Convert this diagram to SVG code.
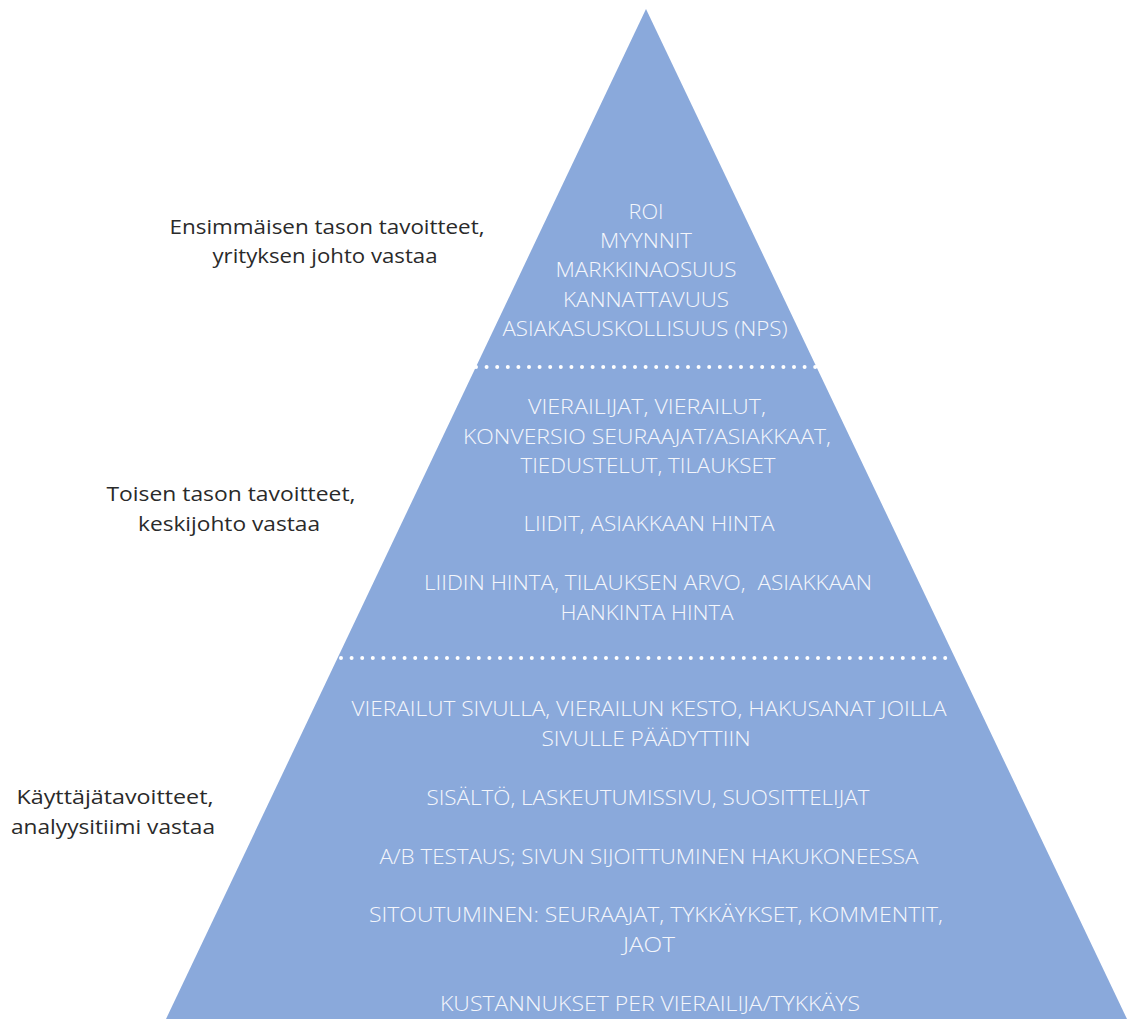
<svg xmlns="http://www.w3.org/2000/svg" width="1127" height="1019" viewBox="0 0 1127 1019">
<style>
.w{font-family:"Open Sans","Liberation Sans",sans-serif;font-weight:300;font-size:20.5px;fill:#F4F6FB;text-anchor:middle}
.b{font-family:"Open Sans","Liberation Sans",sans-serif;font-weight:400;font-size:20.5px;fill:#2a2a2a;text-anchor:middle}
.dot{stroke:#FFFFFF;stroke-width:4;stroke-linecap:round;stroke-dasharray:0 10.6;fill:none}
</style>
<rect width="1127" height="1019" fill="#FFFFFF"/>
<g id="pyramid">
<polygon points="646,9 1127,1019 166,1019" fill="#8AA9DB"/>
</g>
<g id="connectors">
<line class="dot" x1="476" y1="367" x2="817" y2="367"/>
<line class="dot" x1="341" y1="658" x2="955" y2="658"/>
</g>
<g id="level1">
<text class="w" x="646" y="219" textLength="35" lengthAdjust="spacingAndGlyphs">ROI</text>
<text class="w" x="646" y="248" textLength="92" lengthAdjust="spacingAndGlyphs">MYYNNIT</text>
<text class="w" x="646" y="277" textLength="181" lengthAdjust="spacingAndGlyphs">MARKKINAOSUUS</text>
<text class="w" x="646" y="307" textLength="166" lengthAdjust="spacingAndGlyphs">KANNATTAVUUS</text>
<text class="w" x="645" y="336" textLength="285" lengthAdjust="spacingAndGlyphs">ASIAKASUSKOLLISUUS (NPS)</text>
</g>
<g id="level2">
<text class="w" x="647" y="414" textLength="238" lengthAdjust="spacingAndGlyphs">VIERAILIJAT, VIERAILUT,</text>
<text class="w" x="647" y="444" textLength="368" lengthAdjust="spacingAndGlyphs">KONVERSIO SEURAAJAT/ASIAKKAAT,</text>
<text class="w" x="648" y="473" textLength="255" lengthAdjust="spacingAndGlyphs">TIEDUSTELUT, TILAUKSET</text>
<text class="w" x="649" y="531" textLength="251" lengthAdjust="spacingAndGlyphs">LIIDIT, ASIAKKAAN HINTA</text>
<text class="w" x="648" y="590" textLength="448" lengthAdjust="spacingAndGlyphs">LIIDIN HINTA, TILAUKSEN ARVO,&#160; ASIAKKAAN</text>
<text class="w" x="647" y="620" textLength="173" lengthAdjust="spacingAndGlyphs">HANKINTA HINTA</text>
</g>
<g id="level3">
<text class="w" x="649" y="716" textLength="595" lengthAdjust="spacingAndGlyphs">VIERAILUT SIVULLA, VIERAILUN KESTO, HAKUSANAT JOILLA</text>
<text class="w" x="646" y="746" textLength="209" lengthAdjust="spacingAndGlyphs">SIVULLE PÄÄDYTTIIN</text>
<text class="w" x="648" y="805" textLength="443" lengthAdjust="spacingAndGlyphs">SISÄLTÖ, LASKEUTUMISSIVU, SUOSITTELIJAT</text>
<text class="w" x="649" y="864" textLength="539" lengthAdjust="spacingAndGlyphs">A/B TESTAUS; SIVUN SIJOITTUMINEN HAKUKONEESSA</text>
<text class="w" x="656" y="922" textLength="574" lengthAdjust="spacingAndGlyphs">SITOUTUMINEN: SEURAAJAT, TYKKÄYKSET, KOMMENTIT,</text>
<text class="w" x="649" y="952" textLength="52" lengthAdjust="spacingAndGlyphs">JAOT</text>
<text class="w" x="650" y="1011" textLength="420" lengthAdjust="spacingAndGlyphs">KUSTANNUKSET PER VIERAILIJA/TYKKÄYS</text>
</g>
<g id="label1">
<text class="b" x="327" y="234" textLength="315" lengthAdjust="spacingAndGlyphs">Ensimmäisen tason tavoitteet,</text>
<text class="b" x="325" y="263" textLength="225" lengthAdjust="spacingAndGlyphs">yrityksen johto vastaa</text>
</g>
<g id="label2">
<text class="b" x="231" y="501" textLength="249" lengthAdjust="spacingAndGlyphs">Toisen tason tavoitteet,</text>
<text class="b" x="229" y="531" textLength="182" lengthAdjust="spacingAndGlyphs">keskijohto vastaa</text>
</g>
<g id="label3">
<text class="b" x="115" y="804" textLength="197" lengthAdjust="spacingAndGlyphs">Käyttäjätavoitteet,</text>
<text class="b" x="113" y="834" textLength="204" lengthAdjust="spacingAndGlyphs">analyysitiimi vastaa</text>
</g>
</svg>
